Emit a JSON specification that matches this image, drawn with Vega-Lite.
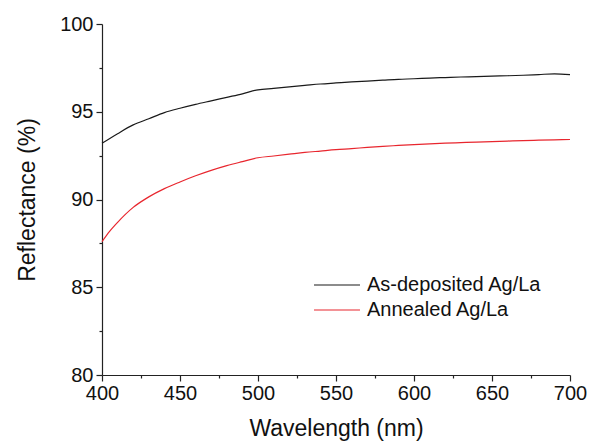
{
  "$schema": "https://vega.github.io/schema/vega-lite/v6.json",
  "width": 468,
  "height": 351,
  "autosize": {"type": "none"},
  "padding": {"left": 102, "top": 24, "right": 21, "bottom": 68},
  "background": "white",
  "config": {
    "view": {"stroke": null},
    "font": "Liberation Sans",
    "axis": {
      "grid": false,
      "domainColor": "#222",
      "tickColor": "#222",
      "labelColor": "#111",
      "titleColor": "#111",
      "labelFont": "Liberation Sans",
      "titleFont": "Liberation Sans",
      "labelFontSize": 20,
      "titleFontSize": 23,
      "titleFontWeight": "normal",
      "domainWidth": 1.2,
      "tickWidth": 1.2
    }
  },
  "datasets": {
    "curves": [
      {"wavelength": 400, "reflectance": 93.2, "sample": "As-deposited Ag/La"},
      {"wavelength": 410, "reflectance": 93.75, "sample": "As-deposited Ag/La"},
      {"wavelength": 420, "reflectance": 94.25, "sample": "As-deposited Ag/La"},
      {"wavelength": 430, "reflectance": 94.6, "sample": "As-deposited Ag/La"},
      {"wavelength": 440, "reflectance": 94.95, "sample": "As-deposited Ag/La"},
      {"wavelength": 450, "reflectance": 95.2, "sample": "As-deposited Ag/La"},
      {"wavelength": 460, "reflectance": 95.42, "sample": "As-deposited Ag/La"},
      {"wavelength": 470, "reflectance": 95.62, "sample": "As-deposited Ag/La"},
      {"wavelength": 480, "reflectance": 95.82, "sample": "As-deposited Ag/La"},
      {"wavelength": 490, "reflectance": 96.02, "sample": "As-deposited Ag/La"},
      {"wavelength": 500, "reflectance": 96.25, "sample": "As-deposited Ag/La"},
      {"wavelength": 510, "reflectance": 96.33, "sample": "As-deposited Ag/La"},
      {"wavelength": 520, "reflectance": 96.42, "sample": "As-deposited Ag/La"},
      {"wavelength": 530, "reflectance": 96.5, "sample": "As-deposited Ag/La"},
      {"wavelength": 540, "reflectance": 96.58, "sample": "As-deposited Ag/La"},
      {"wavelength": 550, "reflectance": 96.64, "sample": "As-deposited Ag/La"},
      {"wavelength": 560, "reflectance": 96.7, "sample": "As-deposited Ag/La"},
      {"wavelength": 570, "reflectance": 96.75, "sample": "As-deposited Ag/La"},
      {"wavelength": 580, "reflectance": 96.8, "sample": "As-deposited Ag/La"},
      {"wavelength": 590, "reflectance": 96.85, "sample": "As-deposited Ag/La"},
      {"wavelength": 600, "reflectance": 96.88, "sample": "As-deposited Ag/La"},
      {"wavelength": 610, "reflectance": 96.92, "sample": "As-deposited Ag/La"},
      {"wavelength": 620, "reflectance": 96.95, "sample": "As-deposited Ag/La"},
      {"wavelength": 630, "reflectance": 96.98, "sample": "As-deposited Ag/La"},
      {"wavelength": 640, "reflectance": 97.0, "sample": "As-deposited Ag/La"},
      {"wavelength": 650, "reflectance": 97.03, "sample": "As-deposited Ag/La"},
      {"wavelength": 660, "reflectance": 97.05, "sample": "As-deposited Ag/La"},
      {"wavelength": 670, "reflectance": 97.08, "sample": "As-deposited Ag/La"},
      {"wavelength": 680, "reflectance": 97.12, "sample": "As-deposited Ag/La"},
      {"wavelength": 690, "reflectance": 97.16, "sample": "As-deposited Ag/La"},
      {"wavelength": 700, "reflectance": 97.12, "sample": "As-deposited Ag/La"},
      {"wavelength": 400, "reflectance": 87.6, "sample": "Annealed Ag/La"},
      {"wavelength": 405, "reflectance": 88.2, "sample": "Annealed Ag/La"},
      {"wavelength": 410, "reflectance": 88.7, "sample": "Annealed Ag/La"},
      {"wavelength": 420, "reflectance": 89.55, "sample": "Annealed Ag/La"},
      {"wavelength": 430, "reflectance": 90.15, "sample": "Annealed Ag/La"},
      {"wavelength": 440, "reflectance": 90.62, "sample": "Annealed Ag/La"},
      {"wavelength": 450, "reflectance": 91.0, "sample": "Annealed Ag/La"},
      {"wavelength": 460, "reflectance": 91.35, "sample": "Annealed Ag/La"},
      {"wavelength": 470, "reflectance": 91.66, "sample": "Annealed Ag/La"},
      {"wavelength": 480, "reflectance": 91.93, "sample": "Annealed Ag/La"},
      {"wavelength": 490, "reflectance": 92.16, "sample": "Annealed Ag/La"},
      {"wavelength": 500, "reflectance": 92.38, "sample": "Annealed Ag/La"},
      {"wavelength": 510, "reflectance": 92.48, "sample": "Annealed Ag/La"},
      {"wavelength": 520, "reflectance": 92.58, "sample": "Annealed Ag/La"},
      {"wavelength": 530, "reflectance": 92.68, "sample": "Annealed Ag/La"},
      {"wavelength": 540, "reflectance": 92.76, "sample": "Annealed Ag/La"},
      {"wavelength": 550, "reflectance": 92.84, "sample": "Annealed Ag/La"},
      {"wavelength": 560, "reflectance": 92.9, "sample": "Annealed Ag/La"},
      {"wavelength": 570, "reflectance": 92.97, "sample": "Annealed Ag/La"},
      {"wavelength": 580, "reflectance": 93.03, "sample": "Annealed Ag/La"},
      {"wavelength": 590, "reflectance": 93.08, "sample": "Annealed Ag/La"},
      {"wavelength": 600, "reflectance": 93.13, "sample": "Annealed Ag/La"},
      {"wavelength": 610, "reflectance": 93.17, "sample": "Annealed Ag/La"},
      {"wavelength": 620, "reflectance": 93.21, "sample": "Annealed Ag/La"},
      {"wavelength": 630, "reflectance": 93.24, "sample": "Annealed Ag/La"},
      {"wavelength": 640, "reflectance": 93.27, "sample": "Annealed Ag/La"},
      {"wavelength": 650, "reflectance": 93.3, "sample": "Annealed Ag/La"},
      {"wavelength": 660, "reflectance": 93.33, "sample": "Annealed Ag/La"},
      {"wavelength": 670, "reflectance": 93.36, "sample": "Annealed Ag/La"},
      {"wavelength": 680, "reflectance": 93.38, "sample": "Annealed Ag/La"},
      {"wavelength": 690, "reflectance": 93.4, "sample": "Annealed Ag/La"},
      {"wavelength": 700, "reflectance": 93.42, "sample": "Annealed Ag/La"}
    ]
  },
  "data": {"name": "curves"},
  "mark": {"type": "line", "strokeWidth": 1.2, "interpolate": "monotone"},
  "encoding": {
    "x": {
      "field": "wavelength",
      "type": "quantitative",
      "scale": {"domain": [400, 700], "nice": false},
      "axis": {
        "title": "Wavelength (nm)",
        "values": [400, 425, 450, 475, 500, 525, 550, 575, 600, 625, 650, 675, 700],
        "labelExpr": "datum.value % 50 == 0 ? format(datum.value, 'd') : ''",
        "tickSize": {"condition": {"test": "datum.value % 50 != 0", "value": 3}, "value": 6},
        "labelPadding": 2,
        "labelFlush": false,
        "titlePadding": 14
      }
    },
    "y": {
      "field": "reflectance",
      "type": "quantitative",
      "scale": {"domain": [80, 100], "nice": false, "zero": false},
      "axis": {
        "title": "Reflectance (%)",
        "values": [80, 82.5, 85, 87.5, 90, 92.5, 95, 97.5, 100],
        "labelExpr": "datum.value % 5 == 0 ? format(datum.value, 'd') : ''",
        "tickSize": {"condition": {"test": "datum.value % 5 != 0", "value": 3}, "value": 6},
        "labelPadding": 3,
        "labelFlush": false,
        "titlePadding": 20
      }
    },
    "color": {
      "field": "sample",
      "type": "nominal",
      "scale": {"domain": ["As-deposited Ag/La", "Annealed Ag/La"], "range": ["#1a1a1a", "#e8262e"]},
      "legend": {
        "title": null,
        "orient": "none",
        "legendX": 225,
        "legendY": 251,
        "symbolType": "M-3,0H3",
        "symbolSize": 235,
        "symbolStrokeWidth": 1.2,
        "symbolFillColor": "transparent",
        "labelFontSize": 20,
        "labelFont": "Liberation Sans",
        "labelColor": "#111",
        "labelLimit": 400,
        "labelOffset": 20,
        "rowPadding": 5
      }
    }
  }
}
